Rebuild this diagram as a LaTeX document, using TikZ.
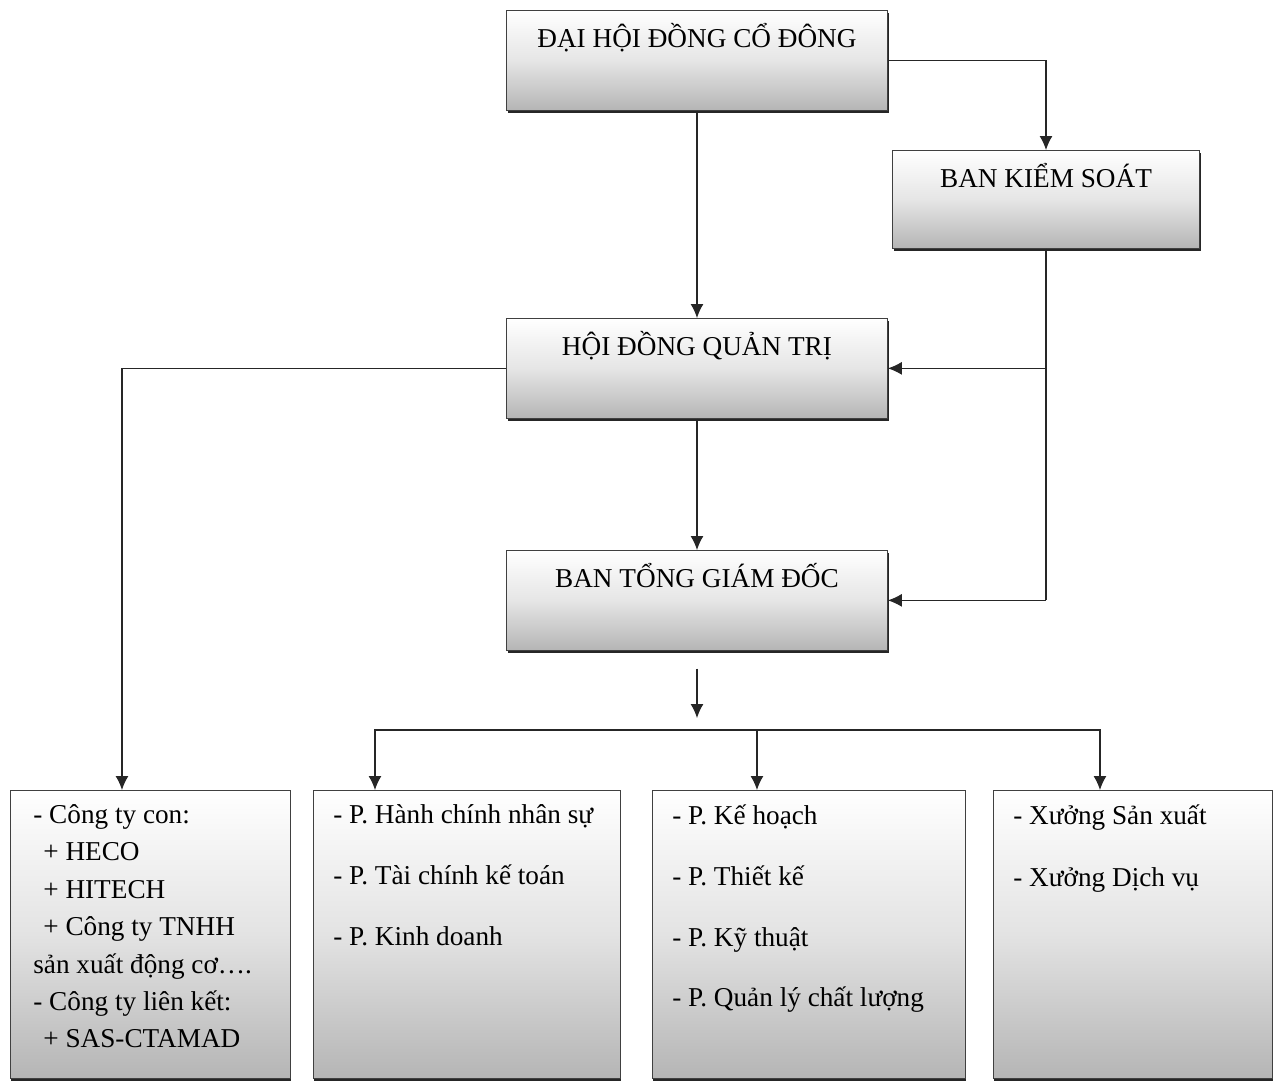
\documentclass[tikz,border=0pt]{standalone}
\usepackage{fontspec}
\setmainfont{Liberation Serif}
\usetikzlibrary{positioning,arrows.meta,shadows}
\tikzset{
chuc/.style={draw=black!75, top color=white, bottom color=gray!58, middle color=gray!20,
  drop shadow={shadow xshift=0.6pt, shadow yshift=-1.6pt, fill=black!85, opacity=1},
  font=\fontsize{15.5}{18}\selectfont, inner xsep=0pt, inner ysep=0.2cm,
  text height=0.535cm, text depth=1.065cm, anchor=north},
donvi/.style={draw=black!75, top color=white, bottom color=gray!58, middle color=gray!22,
  drop shadow={shadow xshift=0.6pt, shadow yshift=-1.6pt, fill=black!85, opacity=1},
  inner xsep=0.4cm, inner ysep=0.28cm, anchor=north west},
arr/.style={-{Latex[length=0.28cm,width=0.26cm]}, black!85, line width=0.7pt},
noi/.style={black!85, line width=0.7pt}
}
\begin{document}
\begin{tikzpicture}[x=0.02cm, y=-0.02cm]
\useasboundingbox (0,0) rectangle (1275,1080);
\node[chuc, minimum width=7.62cm] (dhdcd) at (697,10) {ĐẠI HỘI ĐỒNG CỔ ĐÔNG};
\node[chuc, minimum width=6.14cm, text depth=1.025cm] (bks) at (1046,150) {BAN KIỂM SOÁT};
\node[chuc, minimum width=7.62cm] (hdqt) at (697,318) {HỘI ĐỒNG QUẢN TRỊ};
\node[chuc, minimum width=7.62cm] (btgd) at (697,550) {BAN TỔNG GIÁM ĐỐC};
\node[donvi, inner xsep=0.46cm] (congty) at (10,790) {\parbox[t][5.2cm][t]{4.68cm}{\fontsize{15.5}{21.3}\selectfont
- Công ty con:\\
\hspace*{0.2cm}+ HECO\\
\hspace*{0.2cm}+ HITECH\\
\hspace*{0.2cm}+ Công ty TNHH\\
sản xuất động cơ….\\
- Công ty liên kết:\\
\hspace*{0.2cm}+ SAS-CTAMAD}};
\node[donvi] (phong1) at (313,790) {\parbox[t][5.2cm][t]{5.34cm}{\fontsize{15.5}{34.7}\selectfont
- P. Hành chính nhân sự\\
- P. Tài chính kế toán\\
- P. Kinh doanh}};
\node[donvi] (phong2) at (652,790) {\parbox[t][5.2cm][t]{5.46cm}{\fontsize{15.5}{34.7}\selectfont
- P. Kế hoạch\\
- P. Thiết kế\\
- P. Kỹ thuật\\
- P. Quản lý chất lượng}};
\node[donvi] (xuong) at (993,790) {\parbox[t][5.2cm][t]{4.78cm}{\fontsize{15.5}{35.5}\selectfont
- Xưởng Sản xuất\\
- Xưởng Dịch vụ}};
\coordinate (split) at (697,730);
\draw[arr] (dhdcd.south) -- (hdqt.north);
\draw[arr] (dhdcd.east) -| (bks.north);
\draw[noi] (bks.south) -- (bks.south |- btgd.east);
\draw[arr] (bks.south |- hdqt.east) -- (hdqt.east);
\draw[arr] (bks.south |- btgd.east) -- (btgd.east);
\draw[arr] (hdqt.south) -- (btgd.north);
\draw[arr] (hdqt.west) -| ([xshift=2.24cm]congty.north west);
\draw[arr, shorten <=0.36cm, shorten >=0.24cm] (btgd.south) -- (split);
\draw[arr] (split) -| ([xshift=1.24cm]phong1.north west);
\draw[arr] (split) -| ([xshift=2.14cm]xuong.north west);
\draw[arr] ([xshift=2.1cm]phong2.north west |- split) -- ([xshift=2.1cm]phong2.north west);
\end{tikzpicture}
\end{document}
